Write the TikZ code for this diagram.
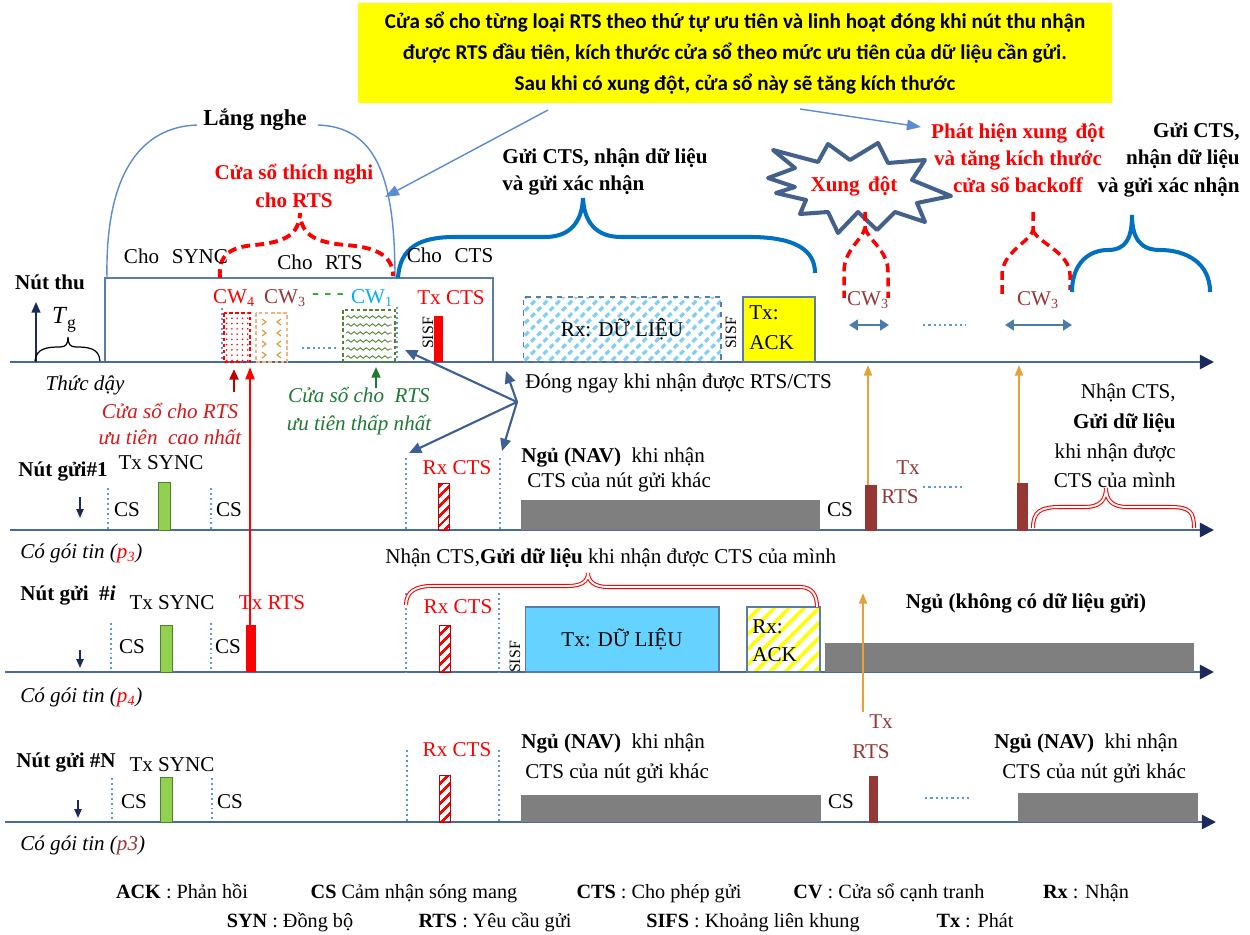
\documentclass[tikz,border=0pt]{standalone}
\usepackage{fontspec}
\setmainfont{Liberation Serif}
\newfontfamily\calfont{Carlito}
\usetikzlibrary{arrows.meta,patterns,patterns.meta,decorations.pathmorphing}
\definecolor{axisc}{HTML}{4A6A9E}
\definecolor{navyc}{HTML}{1B2A5C}
\definecolor{thinblue}{HTML}{5B8BD0}
\definecolor{thickblue}{HTML}{0070C0}
\definecolor{darkred}{HTML}{C00000}
\definecolor{lblred}{HTML}{D81818}
\definecolor{brn}{HTML}{953735}
\definecolor{dgreen}{HTML}{1E7B34}
\definecolor{wavyg}{HTML}{548235}
\definecolor{cwblue}{HTML}{00B0F0}
\definecolor{orangea}{HTML}{E3A33A}
\definecolor{chev}{HTML}{E0962A}
\definecolor{chevb}{HTML}{F4B183}
\definecolor{grayb}{HTML}{7F7F7F}
\definecolor{greenb}{HTML}{92D050}
\definecolor{greenbd}{HTML}{507E32}
\definecolor{datab}{HTML}{66D2FF}
\definecolor{stripeb}{HTML}{7FD0F2}
\definecolor{starc}{HTML}{44618E}
\definecolor{steel}{HTML}{3D5F94}
\definecolor{dotblue}{HTML}{5B9BD5}
\definecolor{boxbd}{HTML}{5A7CA8}
\definecolor{yell}{HTML}{FFFF00}
\begin{document}
\begin{tikzpicture}[x=0.02cm,y=-0.02cm,
  lbl/.style={inner sep=0pt,font=\fontsize{12}{14}\selectfont},
  bld/.style={inner sep=0pt,font=\fontsize{12}{14}\selectfont\bfseries},
  ita/.style={inner sep=0pt,font=\fontsize{12}{14}\selectfont\itshape},
  leg/.style={inner sep=0pt,anchor=base,font=\fontsize{11.5}{13}\selectfont},
  axisline/.style={draw=axisc,line width=1.4pt,-{Triangle[length=8pt,width=8pt,color=navyc]}},
  vdots/.style={draw=dotblue,line width=1.1pt,dash pattern=on 1.1pt off 1.7pt},
  hdots/.style={draw=dotblue,line width=1.3pt,dash pattern=on 1.3pt off 1.7pt},
  syncbar/.style={fill=greenb,draw=greenbd,line width=0.5pt},
  rtsbar/.style={fill=brn,draw=brn,line width=0.4pt},
  ctsbar/.style={pattern={Lines[angle=45,distance=4pt,line width=1.5pt]},pattern color=red,draw=darkred,line width=0.5pt},
  sleepbar/.style={fill=grayb,draw=none},
  thinarc/.style={draw=thinblue,line width=0.8pt},
  bigbrace/.style={draw=thickblue,line width=2.3pt},
  redbrace/.style={draw=red,line width=2.2pt,dash pattern=on 5pt off 3pt},
  hollowbrace/.style={draw=red,double=white,double distance=1.1pt,line width=0.6pt},
  closearrow/.style={draw=steel,line width=1.2pt,-{Triangle[length=7pt,width=6pt]}},
  uparrow/.style={draw=orangea,line width=1.2pt,-{Triangle[length=6pt,width=4.5pt]}},
  cwarrow/.style={draw=dotblue!80!black,line width=1.6pt,{Triangle[length=5pt,width=6pt]}-{Triangle[length=5pt,width=6pt]}},
  notearrow/.style={draw=thinblue,line width=0.8pt,-{Triangle[length=8pt,width=6pt]}},
]
\useasboundingbox[fill=white] (0,0) rectangle (1250,935);

% ---------- note box ----------
\node (note) [fill=yell,minimum width=15.1cm,minimum height=2cm,inner sep=0pt,align=center,
  font=\calfont\bfseries\fontsize{12}{17.5}\selectfont] at (735,53)
  {Cửa sổ cho từng loại RTS theo thứ tự ưu tiên và linh hoạt đóng khi nút thu nhận\\
   được RTS đầu tiên, kích thước cửa sổ theo mức ưu tiên của dữ liệu cần gửi.\\
   Sau khi có xung đột, cửa sổ này sẽ tăng kích thước};
\coordinate (n1s) at (548,110); \coordinate (n1e) at (385,197);
\draw[notearrow] (n1s) -- (n1e);
\coordinate (n2s) at (800,109); \coordinate (n2e) at (921,127);
\draw[notearrow] (n2s) -- (n2e);

% ---------- axes ----------
\draw[draw=boxbd,line width=0.8pt] (105,278) rectangle (493,362);
\coordinate (a0s) at (10,362); \coordinate (a0e) at (1214,362);
\coordinate (a1s) at (10,530); \coordinate (a1e) at (1214,530);
\coordinate (a2s) at (5,672);  \coordinate (a2e) at (1214,672);
\coordinate (a3s) at (5,822);  \coordinate (a3e) at (1216,822);
\draw[axisline] (a0s) -- (a0e);
\draw[axisline] (a1s) -- (a1e);
\draw[axisline] (a2s) -- (a2e);
\draw[axisline] (a3s) -- (a3e);

% ---------- top annotations ----------
\node (lang) [inner sep=0pt,font=\fontsize{13}{15}\selectfont\bfseries] at (255,120) {Lắng nghe};
\draw[thinarc] (107,278) .. controls (105,175) and (140,127) .. (197,125);
\draw[thinarc] (318,125) .. controls (375,127) and (395,175) .. (395,278);

\node (adapt) [inner sep=0pt,text=red,align=center,font=\fontsize{12}{15.5}\selectfont\bfseries] at (294,186) {Cửa sổ thích nghi\\cho RTS};
\draw[redbrace] (220,278) .. controls (218,255) and (230,247) .. (255,245) .. controls (285,242) and (299,235) .. (300,213) .. controls (301,235) and (315,242) .. (345,245) .. controls (375,247) and (393,255) .. (393,276);

\draw[bigbrace] (398,278) .. controls (400,247) and (420,237) .. (455,237) -- (545,237) .. controls (570,237) and (582,222) .. (583,198) .. controls (584,222) and (596,237) .. (621,237) -- (750,237) .. controls (795,237) and (815,250) .. (815,273);
\node (sendcts) [inner sep=0pt,align=left,anchor=west,font=\fontsize{12}{15}\selectfont\bfseries] at (502,172) {Gửi CTS, nhận dữ liệu\\và gửi xác nhận};

\draw[starc,line width=2.3pt,fill=white,line join=round] (768,178) -- (795,168) -- (773,150) -- (818,162) -- (828,144) -- (850,160) -- (878,143) -- (888,163) -- (925,160) -- (912,180) -- (951,196) -- (917,203) -- (925,222) -- (895,212) -- (877,230) -- (858,212) -- (838,233) -- (828,212) -- (800,214) -- (806,200) -- (776,193) -- (795,187) -- cycle;
\node (xd) [bld,text=red] at (854,186) {Xung\hspace{0.4em}đột};

\draw[redbrace,line width=2pt] (865,212) -- (865,228) .. controls (862,240) and (844,250) .. (844,272) -- (844,298);
\draw[redbrace,line width=2pt] (865,228) .. controls (868,240) and (888,250) .. (888,272) -- (888,298);
\draw[redbrace,line width=2pt] (1033,212) -- (1033,230) .. controls (1030,242) and (1002,252) .. (1002,275) -- (1002,298);
\draw[redbrace,line width=2pt] (1033,230) .. controls (1036,242) and (1070,252) .. (1070,275) -- (1070,290);

\draw[bigbrace] (1072,292) .. controls (1072,262) and (1090,250) .. (1108,250) .. controls (1126,250) and (1132,238) .. (1132,215) .. controls (1132,238) and (1140,250) .. (1160,250) .. controls (1185,250) and (1210,262) .. (1210,292);

\node (detect) [inner sep=0pt,text=red,align=center,font=\fontsize{12}{15.5}\selectfont\bfseries] at (1018,158) {Phát hiện xung\hspace{0.4em}đột\\và tăng kích thước\\cửa sổ backoff};
\node (sendcts2) [inner sep=0pt,align=right,anchor=east,font=\fontsize{12}{15.5}\selectfont\bfseries] at (1240,160) {Gửi CTS,\\nhận dữ liệu\\và gửi xác nhận};

% ---------- receiver row ----------
\node (recv) [bld] at (50,282) {Nút thu};
\coordinate (tgb) at (36,362); \coordinate (tgt) at (36,302);
\draw[navyc,line width=1pt,-{Triangle[length=6pt,width=5pt]}] (tgb) -- (tgt);
\node (tg) [inner sep=0pt] at (64,320) {\fontsize{14}{16}\selectfont\textit{T}\raisebox{-3pt}{\fontsize{10}{12}\selectfont g}};
\draw[black,line width=0.7pt] (35,361) .. controls (36,348) and (48,347) .. (60,347) .. controls (66,347) and (68,344) .. (68,337) .. controls (68,344) and (70,347) .. (76,347) .. controls (88,347) and (99,348) .. (100,361);
\node (wake) [ita] at (85,385) {Thức dậy};
\node (csync) [lbl] at (176,256) {Cho\hspace{0.6em}SYNC};
\node (crts) [lbl] at (320,262) {Cho\hspace{0.6em}RTS};
\node (ccts) [lbl] at (450,255) {Cho\hspace{0.6em}CTS};

\node (cw4) [lbl,text=red] at (234,298) {CW\textsubscript{4}};
\node (cw3) [lbl,text=brn] at (285,298) {CW\textsubscript{3}};
\node (cwd) [lbl,text=green!60!black] at (328,297) {- - -};
\node (cw1) [lbl,text=cwblue] at (372,298) {CW\textsubscript{1}};
\node (txcts) [lbl,text=red] at (451,298) {Tx CTS};

\draw[vdots] (222,308) -- (222,362);
\fill[pattern={Dots[radius=0.5pt,distance=3pt]},pattern color=red] (224,313) rectangle (250,362);
\draw[red,line width=0.9pt,dash pattern=on 2pt off 1.5pt] (224,313) rectangle (250,362);
\draw[chevb,line width=0.9pt,dash pattern=on 2pt off 1.5pt] (256,313) rectangle (287,362);
\foreach \yy in {322,333,344,355} {
  \draw[chev,line width=0.6pt] (262,\yy-3) -- (266,\yy) -- (262,\yy+3);
  \draw[chev,line width=0.6pt] (281,\yy-3) -- (277,\yy) -- (281,\yy+3);
}
\draw[hdots] (302,348) -- (338,348);
\draw[wavyg,line width=0.9pt,dash pattern=on 2pt off 1.5pt] (343,310) rectangle (395,362);
\foreach \yy in {317,325,333,341,349,357}
  \draw[wavyg,line width=0.5pt,decorate,decoration={snake,amplitude=0.7pt,segment length=3.5pt}] (346,\yy) -- (392,\yy);
\draw[vdots] (397,307) -- (397,362);
\node (sisf1) [inner sep=0pt,rotate=90,font=\fontsize{9}{10}\selectfont] at (428,333) {SISF};
\fill[red] (434,316) rectangle (443,362);

\node (rxdata) [draw=boxbd,dashed,line width=0.6pt,pattern={Lines[angle=45,distance=5pt,line width=1.8pt]},pattern color=stripeb,minimum width=3.96cm,minimum height=1.3cm,inner sep=0pt,font=\fontsize{12}{14}\selectfont] at (622,329.5) {Rx: DỮ LIỆU};
\node (sisf2) [inner sep=0pt,rotate=90,font=\fontsize{9}{10}\selectfont] at (731,333) {SISF};
\node (txack) [fill=yell,draw=boxbd,line width=0.6pt,minimum width=1.44cm,minimum height=1.3cm,inner sep=0pt] at (779,329.5) {};
\node (txackt) [lbl,align=left,anchor=west,font=\fontsize{12}{17}\selectfont] at (749,328) {Tx:\\ACK};

\node (cw3a) [lbl,text=brn] at (868,300) {CW\textsubscript{3}};
\coordinate (cwa1) at (849,325); \coordinate (cwa2) at (889,325);
\draw[cwarrow] (cwa1) -- (cwa2);
\draw[hdots] (923,325) -- (966,325);
\node (cw3b) [lbl,text=brn] at (1038,300) {CW\textsubscript{3}};
\coordinate (cwb1) at (1005,325); \coordinate (cwb2) at (1072,325);
\draw[cwarrow] (cwb1) -- (cwb2);

\node (close) [lbl,anchor=west] at (525,383) {Đóng ngay khi nhận được RTS/CTS};
\coordinate (hub) at (517,402);
\coordinate (c1) at (405,350); \coordinate (c2) at (506,371);
\coordinate (c3) at (409,453); \coordinate (c4) at (502,451);
\foreach \t in {c1,c2,c3,c4} \draw[closearrow] (hub) -- (\t);

\node (hiwin) [text=lblred,align=center,inner sep=0pt,font=\fontsize{12}{14.5}\selectfont\itshape] at (170,424) {Cửa sổ cho RTS\\ưu tiên\hspace{0.5em}cao nhất};
\node (lowin) [text=dgreen,align=center,inner sep=0pt,font=\fontsize{12}{15.5}\selectfont\itshape] at (359,411) {Cửa sổ cho\hspace{0.5em}RTS\\ưu tiên thấp nhất};
\coordinate (dra) at (234,392); \coordinate (drb) at (234,369);
\draw[darkred,line width=1.5pt,-{Triangle[length=6pt,width=5pt]}] (dra) -- (drb);
\coordinate (gra) at (376,388); \coordinate (grb) at (376,367);
\draw[dgreen,line width=1.2pt,-{Triangle[length=6pt,width=5pt]}] (gra) -- (grb);

% ---------- sender #1 ----------
\node (s1) [bld] at (63,472) {Nút gửi\#1};
\coordinate (d1a) at (80,497); \coordinate (d1b) at (80,518);
\draw[navyc,line width=1pt,-{Triangle[length=5pt,width=4pt]}] (d1a) -- (d1b);
\draw[vdots] (108,488) -- (108,530);
\node (s1cs1) [lbl] at (127,510) {CS};
\node (s1sync) [lbl] at (161,463) {Tx SYNC};
\draw[syncbar] (158,482) rectangle (170,530);
\draw[vdots] (211,488) -- (211,530);
\node (s1cs2) [lbl] at (229,510) {CS};
\draw[vdots] (406,458) -- (406,530);
\node (s1rx) [lbl,text=red] at (457,468) {Rx CTS};
\draw[ctsbar] (438,483) rectangle (449,530);
\draw[vdots] (500,458) -- (500,530);
\node (s1nav) [lbl,anchor=west] at (521,457) {\textbf{Ngủ (NAV)}\hspace{0.5em}khi nhận};
\node (s1nav2) [lbl,anchor=west] at (527,482) {CTS của nút gửi khác};
\fill[grayb] (521,500) rectangle (820,530);
\node (s1cs3) [lbl] at (840,510) {CS};
\draw[rtsbar] (865,485) rectangle (876,530);
\node (s1tx) [lbl,text=brn] at (908,468) {Tx};
\node (s1rts) [lbl,text=brn] at (900,497) {RTS};
\draw[hdots] (923,487) -- (965,487);
\draw[rtsbar] (1017,483) rectangle (1027,530);
\node (s1r1) [lbl,anchor=east] at (1176,393) {Nhận CTS,};
\node (s1r2) [bld,anchor=east] at (1176,423) {Gửi dữ liệu};
\node (s1r3) [lbl,anchor=east] at (1176,453) {khi nhận được};
\node (s1r4) [lbl,anchor=east] at (1176,480) {CTS của mình};
\draw[hollowbrace] (1033,528) .. controls (1033,512) and (1040,507) .. (1060,507) -- (1085,507) .. controls (1100,507) and (1106,500) .. (1106,488) .. controls (1106,500) and (1112,507) .. (1127,507) -- (1170,507) .. controls (1190,507) and (1194,512) .. (1194,528);
\node (s1p) [ita,anchor=west] at (20,553) {Có gói tin (\textcolor{red}{p\textsubscript{3}})};

\coordinate (o1a) at (868,485); \coordinate (o1b) at (868,365);
\draw[uparrow] (o1a) -- (o1b);
\coordinate (o2a) at (1019,483); \coordinate (o2b) at (1019,365);
\draw[uparrow] (o2a) -- (o2b);

% ---------- sender #i ----------
\node (si) [bld] at (68,595) {Nút gửi\hspace{0.5em}\#\textit{i}};
\coordinate (dia) at (80,650); \coordinate (dib) at (80,668);
\draw[navyc,line width=1pt,-{Triangle[length=5pt,width=4pt]}] (dia) -- (dib);
\node (sisync) [lbl] at (172,603) {Tx SYNC};
\node (sirts) [lbl,text=red] at (272,603) {Tx RTS};
\draw[vdots] (111,623) -- (111,672);
\node (sics1) [lbl] at (132,647) {CS};
\draw[syncbar] (160,625) rectangle (172,672);
\draw[vdots] (211,623) -- (211,672);
\node (sics2) [lbl] at (228,647) {CS};
\fill[red] (246,625) rectangle (256,672);
\coordinate (rra) at (250,625); \coordinate (rrb) at (250,367);
\draw[red,line width=1.4pt,-{Triangle[length=7pt,width=5pt]}] (rra) -- (rrb);
\draw[vdots] (406,593) -- (406,672);
\node (sirx) [lbl,text=red] at (458,607) {Rx CTS};
\draw[ctsbar] (439,625) rectangle (450,672);
\draw[vdots] (499,593) -- (499,672);
\node (sisisf) [inner sep=0pt,rotate=90,font=\fontsize{9}{10}\selectfont] at (515,657) {SISF};
\node (txdata) [fill=datab,draw=boxbd,line width=0.6pt,minimum width=3.88cm,minimum height=1.3cm,inner sep=0pt,font=\fontsize{12}{14}\selectfont] at (622,639.5) {Tx: DỮ LIỆU};
\node (rxack) [draw=boxbd,line width=0.6pt,pattern={Lines[angle=45,distance=6pt,line width=2pt]},pattern color=yell,minimum width=1.46cm,minimum height=1.3cm,inner sep=0pt] at (783.5,639.5) {};
\node (rxackt) [lbl,align=left,anchor=west,font=\fontsize{12}{16}\selectfont] at (752,641) {Rx:\\ACK};
\draw[hollowbrace] (406,605) .. controls (406,592) and (415,586) .. (432,586) -- (568,586) .. controls (582,586) and (588,581) .. (588,573) .. controls (588,581) and (594,587) .. (608,587) -- (800,587) .. controls (812,587) and (817,595) .. (817,607);
\node (sitop) [lbl,anchor=west] at (385,558) {Nhận CTS,\textbf{Gửi dữ liệu} khi nhận được CTS của mình};
\fill[grayb] (825,643) rectangle (1194,672);
\node (sisleep) [bld] at (1026,603) {Ngủ (không có dữ liệu gửi)};
\node (sip) [ita,anchor=west] at (20,697) {Có gói tin (\textcolor{red}{p\textsubscript{4}})};

% ---------- sender #N ----------
\node (sn) [bld] at (66,762) {Nút gửi \#N};
\coordinate (dna) at (78,800); \coordinate (dnb) at (78,818);
\draw[navyc,line width=1pt,-{Triangle[length=5pt,width=4pt]}] (dna) -- (dnb);
\node (snsync) [lbl] at (172,765) {Tx SYNC};
\draw[vdots] (112,778) -- (112,822);
\node (sncs1) [lbl] at (134,802) {CS};
\draw[syncbar] (160,777) rectangle (172,822);
\draw[vdots] (212,778) -- (212,822);
\node (sncs2) [lbl] at (230,802) {CS};
\draw[vdots] (407,750) -- (407,822);
\node (snrx) [lbl,text=red] at (457,750) {Rx CTS};
\draw[ctsbar] (439,775) rectangle (450,822);
\draw[vdots] (499,750) -- (499,822);
\node (snnav) [lbl,anchor=west] at (521,743) {\textbf{Ngủ (NAV)}\hspace{0.5em}khi nhận};
\node (snnav2) [lbl,anchor=west] at (525,773) {CTS của nút gửi khác};
\fill[grayb] (521,795) rectangle (821,822);
\node (sncs3) [lbl] at (841,802) {CS};
\draw[rtsbar] (869,776) rectangle (877,822);
\node (sntx) [lbl,text=brn] at (881,722) {Tx};
\node (snrts) [lbl,text=brn] at (871,752) {RTS};
\draw[hdots] (925,798) -- (970,798);
\node (snnav3) [lbl,anchor=west] at (994,743) {\textbf{Ngủ (NAV)}\hspace{0.5em}khi nhận};
\node (snnav4) [lbl,anchor=west] at (1002,773) {CTS của nút gửi khác};
\fill[grayb] (1018,793) rectangle (1198,822);
\node (snp) [ita,anchor=west] at (20,845) {Có gói tin (\textcolor{brn}{p3})};
\coordinate (o3a) at (863,712); \coordinate (o3b) at (863,593);
\draw[uparrow] (o3a) -- (o3b);

% ---------- legend ----------
\node (l1) [leg] at (182,898) {\textbf{ACK} : Phản hồi};
\node (l2) [leg] at (414,898) {\textbf{CS} Cảm nhận sóng mang};
\node (l3) [leg] at (659,898) {\textbf{CTS} : Cho phép gửi};
\node (l4) [leg] at (889,898) {\textbf{CV} : Cửa sổ cạnh tranh};
\node (l5) [leg] at (1086,898) {\textbf{Rx} : Nhận};
\node (l6) [leg] at (290,927) {\textbf{SYN} : Đồng bộ};
\node (l7) [leg] at (495,927) {\textbf{RTS} : Yêu cầu gửi};
\node (l8) [leg] at (753,927) {\textbf{SIFS} : Khoảng liên khung};
\node (l9) [leg] at (975,927) {\textbf{Tx} : Phát};
\end{tikzpicture}
\end{document}
